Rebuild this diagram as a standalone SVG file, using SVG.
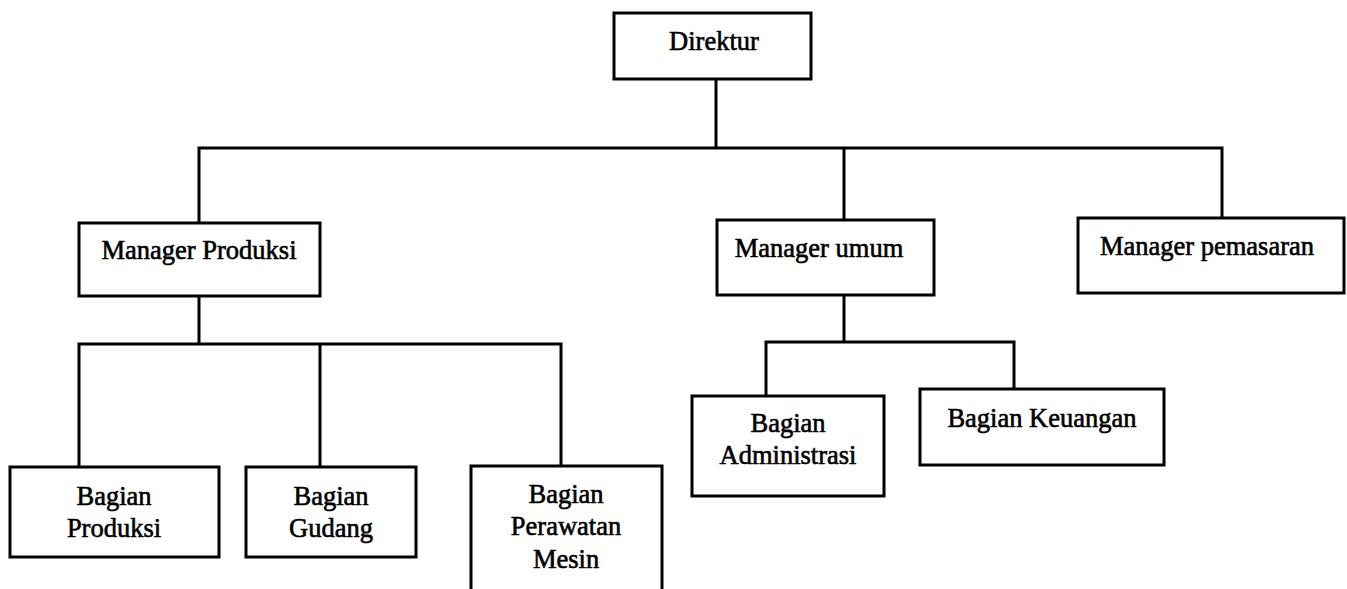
<svg xmlns="http://www.w3.org/2000/svg" width="1347" height="589" viewBox="0 0 1347 589">
<style>
.box{fill:#fff;stroke:#000;stroke-width:3}
.lbl{font-family:"Liberation Serif","Times New Roman",serif;font-size:26.5px;fill:#000;stroke:#000;stroke-width:0.6;text-anchor:middle}
.ln{fill:none;stroke:#000;stroke-width:3;stroke-linecap:square}
</style>
<rect width="1347" height="589" fill="#fff"/>
<g id="connectors">
<path class="ln" d="M716 79V148M199 148H1222M199 148V223M844 148V220M1222 148V218"/>
<path class="ln" d="M199 296V344M79 344H561M79 344V467M320 344V467M561 344V466"/>
<path class="ln" d="M844 295V342M766 342H1014M766 342V396M1014 342V389"/>
</g>
<g id="direktur"><rect class="box" x="614" y="13" width="197" height="66"/><text class="lbl" x="714" y="50">Direktur</text></g>
<g id="manager-produksi"><rect class="box" x="79" y="223" width="241" height="73"/><text class="lbl" x="199" y="259">Manager Produksi</text></g>
<g id="manager-umum"><rect class="box" x="717" y="220" width="217" height="75"/><text class="lbl" x="819" y="257">Manager umum</text></g>
<g id="manager-pemasaran"><rect class="box" x="1078" y="218" width="266" height="75"/><text class="lbl" x="1207" y="255">Manager pemasaran</text></g>
<g id="bagian-produksi"><rect class="box" x="10" y="467" width="209" height="90"/><text class="lbl" x="114" y="505">Bagian</text><text class="lbl" x="114" y="537">Produksi</text></g>
<g id="bagian-gudang"><rect class="box" x="246" y="467" width="170" height="90"/><text class="lbl" x="331" y="505">Bagian</text><text class="lbl" x="331" y="537">Gudang</text></g>
<g id="bagian-perawatan-mesin"><rect class="box" x="471" y="466" width="191" height="140"/><text class="lbl" x="566" y="503">Bagian</text><text class="lbl" x="566" y="535">Perawatan</text><text class="lbl" x="566" y="568">Mesin</text></g>
<g id="bagian-administrasi"><rect class="box" x="692" y="396" width="192" height="100"/><text class="lbl" x="788" y="432">Bagian</text><text class="lbl" x="788" y="464">Administrasi</text></g>
<g id="bagian-keuangan"><rect class="box" x="920" y="389" width="244" height="76"/><text class="lbl" x="1042" y="427">Bagian Keuangan</text></g>
</svg>
